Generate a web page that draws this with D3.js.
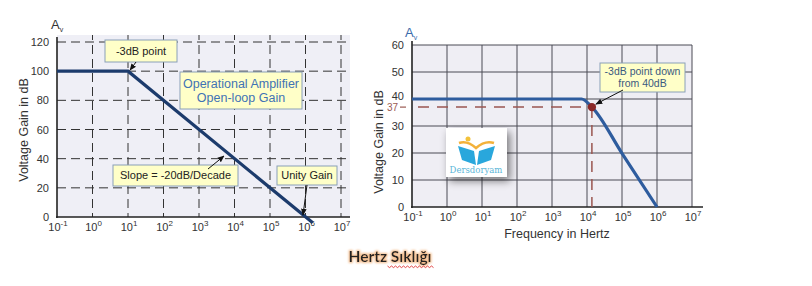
<!DOCTYPE html>
<html><head><meta charset="utf-8">
<script src="https://cdn.jsdelivr.net/npm/d3@7"></script>
<style>body{margin:0;background:#fff}svg{display:block;font-family:"Liberation Sans",Arial,sans-serif}</style>
</head><body><svg id="c" width="812" height="286"></svg>
<script>
// ---- data ----
const decades = [-1,0,1,2,3,4,5,6,7];
const leftYTicks = [0,20,40,60,80,100,120];
const rightYTicks = [0,10,20,30,40,50,60];
// left: op-amp open-loop gain (freq Hz, gain dB)
const leftFreq = [0.1, 10, 1.6e6];
const leftGain = [100, 100, -4];
// right: closed-loop response
const rightFreq = [0.1, 7000, 13800, 1e5, 1e6];
const rightGain = [40, 40, 37, 19.9, 0];
const cutoff = {f:13800, g:37};

const svg = d3.select("#c");

function tickLabel(g, x, y, e){
  const t = g.append("text").attr("x",x).attr("y",y).attr("text-anchor","middle")
    .attr("font-size",11).attr("fill","#333");
  t.append("tspan").text("10");
  t.append("tspan").attr("dy",-5).attr("font-size",8).text(e);
}
function note(g, x, y, w, h, lines, color, fs){
  g.append("rect").attr("x",x).attr("y",y).attr("width",w).attr("height",h)
    .attr("fill","#ffffc8").attr("stroke","#8aa0b8").attr("stroke-width",1);
  lines.forEach((l,i)=>{
    g.append("text").attr("x",x+w/2).attr("y",y+h/2+(i-(lines.length-1)/2)*fs*1.15+fs*0.35)
      .attr("text-anchor","middle").attr("font-size",fs).attr("fill",color).text(l);
  });
}
svg.append("defs").html(`
 <marker id="ar" viewBox="0 0 10 10" refX="9" refY="5" markerWidth="7" markerHeight="7" orient="auto">
  <path d="M0,1 L10,5 L0,9 z" fill="#111"/></marker>
 <filter id="sh" x="-30%" y="-30%" width="170%" height="170%"><feGaussianBlur in="SourceAlpha" stdDeviation="4"/><feOffset dx="3" dy="4"/><feComponentTransfer><feFuncA type="linear" slope="0.5"/></feComponentTransfer><feMerge><feMergeNode/><feMergeNode in="SourceGraphic"/></feMerge></filter>
 <filter id="glow" x="-10%" y="-30%" width="120%" height="160%"><feMorphology in="SourceAlpha" operator="dilate" radius="1" result="d"/><feGaussianBlur in="d" stdDeviation="1.2" result="b"/><feFlood flood-color="#f4bf90"/><feComposite in2="b" operator="in"/><feMerge><feMergeNode/><feMergeNode in="SourceGraphic"/></feMerge></filter>
`);

// ================= LEFT CHART =================
const xL = d3.scaleLog().domain([0.1,1e7]).range([57,341]);
const yL = d3.scaleLinear().domain([0,120]).range([217,42]);
const gL = svg.append("g");
gL.append("rect").attr("x",57).attr("y",35).attr("width",293).attr("height",182).attr("fill","#efeff6");
gL.selectAll(".hg").data(leftYTicks.filter(d=>d>0)).join("line")
  .attr("x1",57).attr("x2",350).attr("y1",d=>yL(d)).attr("y2",d=>yL(d))
  .attr("stroke","#333").attr("stroke-width",1).attr("stroke-dasharray","9,5");
gL.selectAll(".vg").data(decades.filter(d=>d>-1)).join("line")
  .attr("x1",d=>xL(Math.pow(10,d))).attr("x2",d=>xL(Math.pow(10,d)))
  .attr("y1",35).attr("y2",217)
  .attr("stroke","#333").attr("stroke-width",1).attr("stroke-dasharray","9,5").attr("stroke-dashoffset",4);
gL.append("line").attr("x1",57).attr("x2",57).attr("y1",37).attr("y2",218).attr("stroke","#222").attr("stroke-width",1.6);
gL.append("line").attr("x1",56).attr("x2",350).attr("y1",217).attr("y2",217).attr("stroke","#222").attr("stroke-width",1.6);
leftYTicks.forEach(d=>{
  gL.append("text").attr("x",49).attr("y",yL(d)+4).attr("text-anchor","end").attr("font-size",11).attr("fill","#333").text(d);
});
decades.forEach(d=>tickLabel(gL, xL(Math.pow(10,d))+1, 231, d));
gL.append("text").attr("transform","translate(28,130) rotate(-90)").attr("text-anchor","middle")
  .attr("font-size",12.5).attr("fill","#333").text("Voltage Gain in dB");
const avL = gL.append("text").attr("x",51).attr("y",29).attr("font-size",13).attr("fill","#333");
avL.append("tspan").text("A"); avL.append("tspan").attr("font-size",7).attr("dy",3).text("v");
gL.append("path").datum(leftFreq.map((f,i)=>[f,leftGain[i]]))
  .attr("d",d3.line().x(d=>xL(d[0])).y(d=>yL(d[1])))
  .attr("fill","none").attr("stroke","#1c3b6c").attr("stroke-width",3.2);
note(gL,105,40,72,22,["-3dB point"],"#222",11);
gL.append("line").attr("x1",136).attr("y1",62).attr("x2",xL(10)+2).attr("y2",yL(100)-1).attr("stroke","#111").attr("marker-end","url(#ar)");
note(gL,180,72,122,37,["Operational Amplifier","Open-loop Gain"],"#3f73b5",12.5);
note(gL,113,165,125,21,["Slope = -20dB/Decade"],"#222",11);
gL.append("line").attr("x1",208).attr("y1",169).attr("x2",224).attr("y2",156).attr("stroke","#111").attr("marker-end","url(#ar)");
note(gL,277,166,60,19,["Unity Gain"],"#222",11);
gL.append("line").attr("x1",307).attr("y1",185).attr("x2",303).attr("y2",215).attr("stroke","#111").attr("marker-end","url(#ar)");

// ================= RIGHT CHART =================
const xR = d3.scaleLog().domain([0.1,1e7]).range([412,692]);
const yR = d3.scaleLinear().domain([0,60]).range([207,45]);
const gR = svg.append("g");
gR.append("rect").attr("x",412).attr("y",45).attr("width",280).attr("height",162).attr("fill","#efeef4");
gR.selectAll(".hg").data(rightYTicks.filter(d=>d>0)).join("line")
  .attr("x1",412).attr("x2",692).attr("y1",d=>yR(d)).attr("y2",d=>yR(d))
  .attr("stroke","#4a4a55").attr("stroke-width",1);
gR.selectAll(".vg").data(decades.filter(d=>d>-1)).join("line")
  .attr("x1",d=>xR(Math.pow(10,d))).attr("x2",d=>xR(Math.pow(10,d)))
  .attr("y1",45).attr("y2",207).attr("stroke","#4a4a55").attr("stroke-width",1);
gR.append("line").attr("x1",412).attr("x2",412).attr("y1",41).attr("y2",208).attr("stroke","#222").attr("stroke-width",1.6);
gR.append("line").attr("x1",411).attr("x2",703).attr("y1",207).attr("y2",207).attr("stroke","#222").attr("stroke-width",1.6);
rightYTicks.forEach(d=>{
  gR.append("text").attr("x",404).attr("y",yR(d)+(d===40?1:4)).attr("text-anchor","end").attr("font-size",11).attr("fill","#333").text(d);
});
gR.append("text").attr("x",398).attr("y",yR(cutoff.g)+4).attr("text-anchor","end").attr("font-size",10).attr("fill","#9a5a52").text("37");
gR.append("line").attr("x1",400).attr("x2",406).attr("y1",yR(cutoff.g)).attr("y2",yR(cutoff.g)).attr("stroke","#9a5a52").attr("stroke-width",1.2);
decades.forEach(d=>tickLabel(gR, xR(Math.pow(10,d))+1, 221, d));
gR.append("text").attr("transform","translate(383,142) rotate(-90)").attr("text-anchor","middle")
  .attr("font-size",12.5).attr("fill","#333").text("Voltage Gain in dB");
gR.append("text").attr("x",557).attr("y",238).attr("text-anchor","middle").attr("font-size",12.5).attr("fill","#333").text("Frequency in Hertz");
const avR = gR.append("text").attr("x",405).attr("y",37).attr("font-size",13).attr("fill","#3a6aaa");
avR.append("tspan").text("A"); avR.append("tspan").attr("font-size",7).attr("dy",3).text("v");
gR.append("line").attr("x1",412).attr("x2",xR(cutoff.f)).attr("y1",yR(cutoff.g)).attr("y2",yR(cutoff.g))
  .attr("stroke","#9a5550").attr("stroke-width",1.5).attr("stroke-dasharray","11,8").attr("stroke-dashoffset",-6);
gR.append("line").attr("x1",xR(cutoff.f)).attr("x2",xR(cutoff.f)).attr("y1",yR(cutoff.g)).attr("y2",207)
  .attr("stroke","#9a5550").attr("stroke-width",1.5).attr("stroke-dasharray","11,7");
gR.append("path").datum(rightFreq.map((f,i)=>[f,rightGain[i]]))
  .attr("d",d3.line().x(d=>xR(d[0])).y(d=>yR(d[1])).curve(d3.curveMonotoneX))
  .attr("fill","none").attr("stroke","#2e5c9e").attr("stroke-width",3.2);
gR.append("circle").attr("cx",xR(cutoff.f)).attr("cy",yR(cutoff.g)).attr("r",4.2).attr("fill","#8a2828");
note(gR,600,63,85,29,["-3dB point down","from 40dB"],"#3b5a80",10.5);
gR.append("line").attr("x1",623).attr("y1",90).attr("x2",xR(cutoff.f)+4).attr("y2",yR(cutoff.g)-3).attr("stroke","#111").attr("marker-end","url(#ar)");

// logo watermark
const lg = svg.append("g");
lg.append("rect").attr("x",446).attr("y",128).attr("width",61).attr("height",49).attr("fill","#fff").attr("filter","url(#sh)");
lg.append("circle").attr("cx",468).attr("cy",139).attr("r",2.5).attr("fill","#f3c23a");
lg.append("path").attr("d","M459,143 Q467,140 476,148 Q485,140 494,143").attr("fill","none").attr("stroke","#f3b13a").attr("stroke-width",2.5);
lg.append("path").attr("d","M458,146 L474,151 L476,165 L462,160 Z").attr("fill","#29a7dc");
lg.append("path").attr("d","M495,146 L479,151 L477,165 L491,160 Z").attr("fill","#29a7dc");
lg.append("text").attr("x",476).attr("y",173).attr("text-anchor","middle").attr("font-size",8.5)
  .attr("font-family","DejaVu Serif, serif").attr("fill","#5bb6d8").text("Dersdoryam");

// caption
const cap = svg.append("text").attr("x",390).attr("y",262).attr("text-anchor","middle")
  .attr("font-family","Lato, 'Open Sans', sans-serif").attr("font-weight","bold").attr("font-size",15.5)
  .attr("fill","#222").attr("filter","url(#glow)").text("Hertz Sıklığı");
const bb = cap.node().getBBox();
const sx0 = bb.x + bb.width*0.47, sx1 = bb.x + bb.width;
let zz = `M${sx0},${bb.y+bb.height+1}`;
for(let x=sx0, k=0; x<sx1; x+=2, k++){ zz += ` L${x+2},${bb.y+bb.height+1+(k%2?0:1.6)}`; }
svg.append("path").attr("d",zz).attr("fill","none").attr("stroke","#e03030").attr("stroke-width",0.9);
</script></body></html>
